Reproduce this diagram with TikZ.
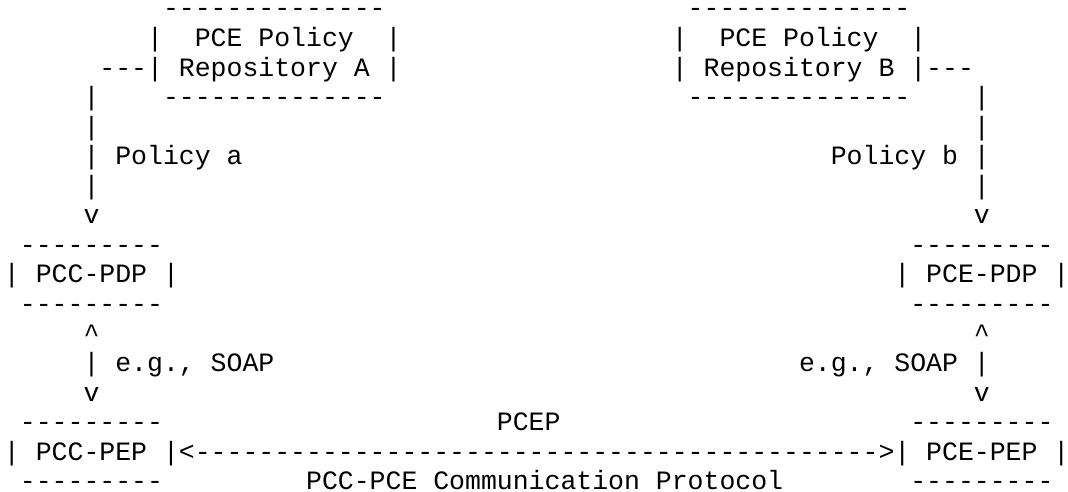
\documentclass[tikz,border=0pt]{standalone}
\usepackage{fontspec}
\setmonofont{Liberation Mono}
\begin{document}
\begin{tikzpicture}[x=1pt,y=-1pt,
  txt/.style={anchor=base west, inner sep=0pt, outer sep=0pt,
    text height=15.5pt, text depth=1pt,
    font=\ttfamily\fontsize{26.5}{29.6}\selectfont}]
\useasboundingbox (0,0) rectangle (1068,492);
\newcommand\putseg[4]{\node[txt] (#1) at ({4+#2*15.9},{17+#3*29.55}) {#4};}
% row 0
\putseg{r0a}{10}{0}{--------------}
\putseg{r0b}{43}{0}{--------------}
% row 1
\putseg{r1a}{9}{1}{|}
\putseg{r1b}{12}{1}{PCE Policy}
\putseg{r1c}{24}{1}{|}
\putseg{r1d}{42}{1}{|}
\putseg{r1e}{45}{1}{PCE Policy}
\putseg{r1f}{57}{1}{|}
% row 2
\putseg{r2a}{6}{2}{---|}
\putseg{r2b}{11}{2}{Repository A}
\putseg{r2c}{24}{2}{|}
\putseg{r2d}{42}{2}{|}
\putseg{r2e}{44}{2}{Repository B}
\putseg{r2f}{57}{2}{|---}
% row 3
\putseg{r3a}{5}{3}{|}
\putseg{r3b}{10}{3}{--------------}
\putseg{r3c}{43}{3}{--------------}
\putseg{r3d}{61}{3}{|}
% row 4
\putseg{r4a}{5}{4}{|}
\putseg{r4b}{61}{4}{|}
% row 5
\putseg{r5a}{5}{5}{|}
\putseg{r5b}{7}{5}{Policy a}
\putseg{r5c}{52}{5}{Policy b}
\putseg{r5d}{61}{5}{|}
% row 6
\putseg{r6a}{5}{6}{|}
\putseg{r6b}{61}{6}{|}
% row 7
\putseg{r7a}{5}{7}{v}
\putseg{r7b}{61}{7}{v}
% row 8
\putseg{r8a}{1}{8}{---------}
\putseg{r8b}{57}{8}{---------}
% row 9
\putseg{r9a}{0}{9}{|}
\putseg{r9b}{2}{9}{PCC-PDP}
\putseg{r9c}{10}{9}{|}
\putseg{r9d}{56}{9}{|}
\putseg{r9e}{58}{9}{PCE-PDP}
\putseg{r9f}{66}{9}{|}
% row 10
\putseg{r10a}{1}{10}{---------}
\putseg{r10b}{57}{10}{---------}
% row 11
\putseg{r11a}{5}{11}{\textasciicircum}
\putseg{r11b}{61}{11}{\textasciicircum}
% row 12
\putseg{r12a}{5}{12}{|}
\putseg{r12b}{7}{12}{e.g., SOAP}
\putseg{r12c}{50}{12}{e.g., SOAP}
\putseg{r12d}{61}{12}{|}
% row 13
\putseg{r13a}{5}{13}{v}
\putseg{r13b}{61}{13}{v}
% row 14
\putseg{r14a}{1}{14}{---------}
\putseg{r14b}{31}{14}{PCEP}
\putseg{r14c}{57}{14}{---------}
% row 15
\putseg{r15a}{0}{15}{|}
\putseg{r15b}{2}{15}{PCC-PEP}
\putseg{r15c}{10}{15}{|<------------------------------------------->|}
\putseg{r15d}{58}{15}{PCE-PEP}
\putseg{r15e}{66}{15}{|}
% row 16
\putseg{r16a}{1}{16}{---------}
\putseg{r16b}{19}{16}{PCC-PCE Communication Protocol}
\putseg{r16c}{57}{16}{---------}
\end{tikzpicture}
\end{document}
